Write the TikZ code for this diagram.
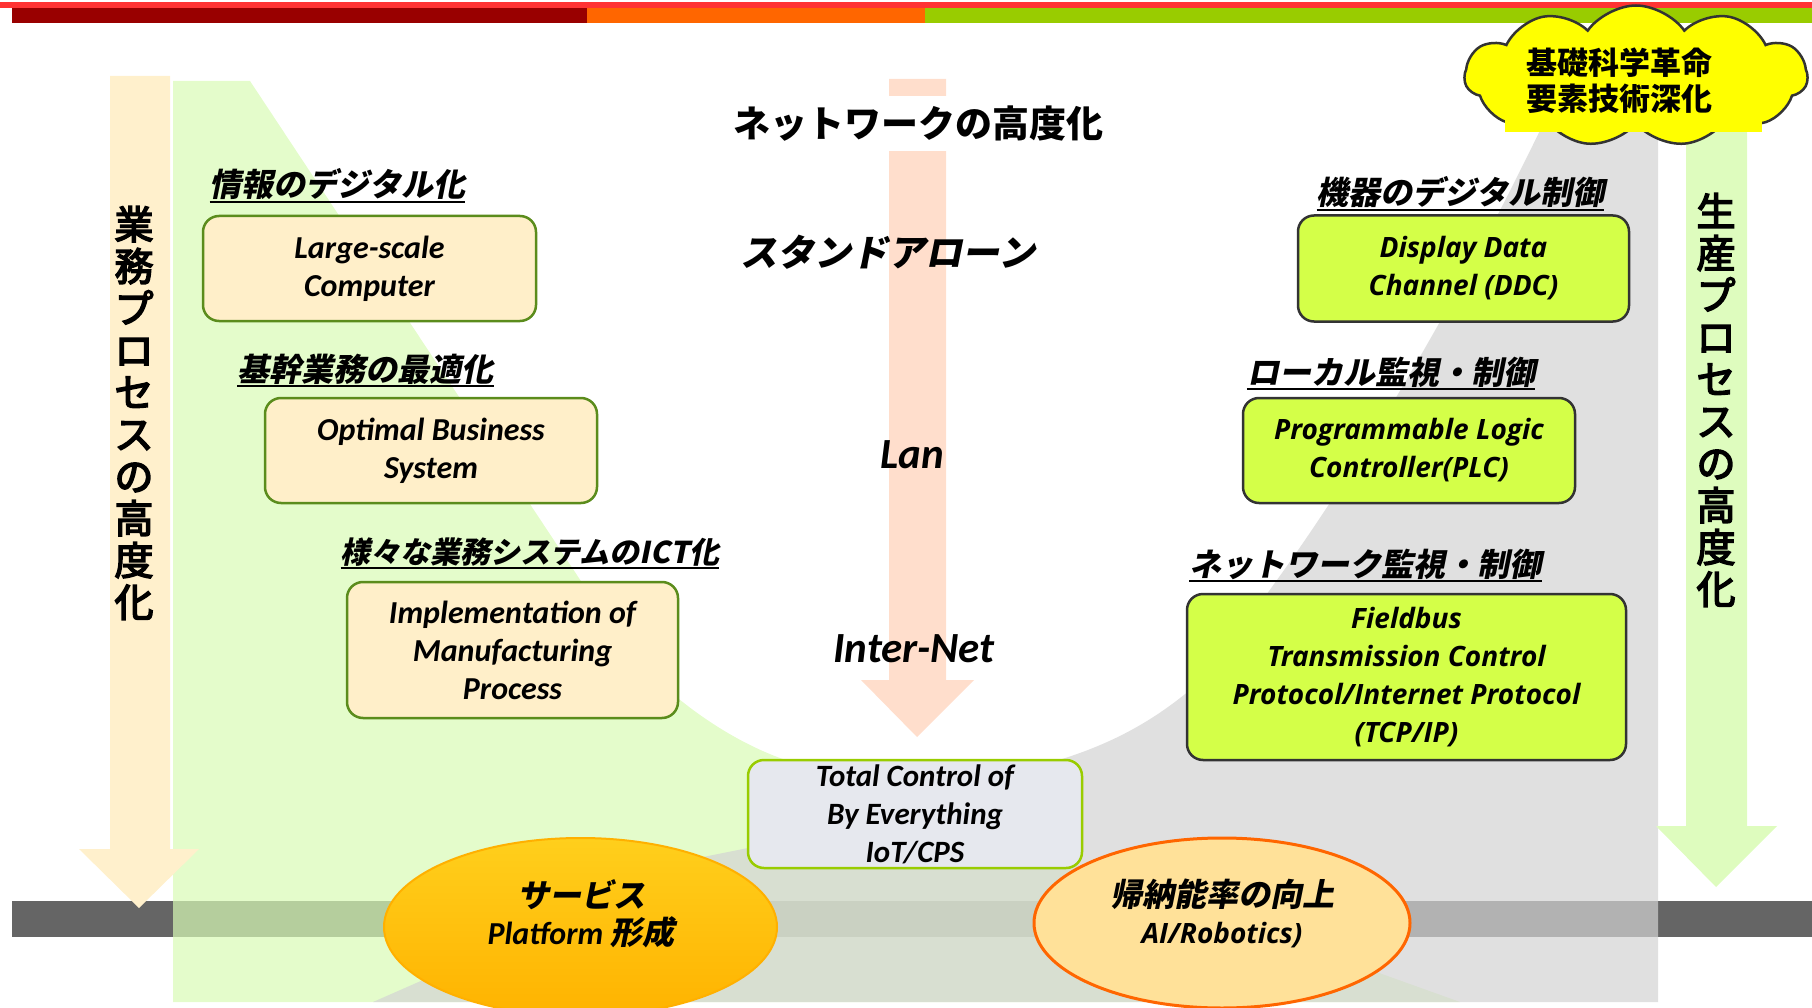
\documentclass[tikz,border=0pt]{standalone}
\usepackage{fontspec}
\setmainfont{Carlito}
\newfontfamily\jp{Noto Sans CJK JP}
\newfontfamily\jpm[FakeBold=4]{Noto Sans CJK JP}
\newfontfamily\jpsl[FakeSlant=0.2]{Noto Sans CJK JP}
\newfontfamily\osans{Open Sans}
\usetikzlibrary{shapes.symbols,shapes.geometric}
\newcommand\jb{\jpsl\bfseries\upshape}
\newcommand\jbu{\jp\bfseries\upshape}
\definecolor{barred}{HTML}{FF3333}
\definecolor{bardr}{HTML}{990000}
\definecolor{baror}{HTML}{FF6600}
\definecolor{bargr}{HTML}{99CC00}
\definecolor{beigearr}{HTML}{FFF0CC}
\definecolor{pinkarr}{HTML}{FFDECC}
\definecolor{grnarr}{HTML}{DEFCBE}
\definecolor{regG}{HTML}{D8FBB5}
\definecolor{regR}{HTML}{D3D3D3}
\definecolor{bandc}{HTML}{656565}
\definecolor{lfill}{HTML}{FFEFC9}
\definecolor{ldraw}{HTML}{5B8C1C}
\definecolor{rfill}{HTML}{D4FF48}
\definecolor{rdraw}{HTML}{333333}
\definecolor{tfill}{HTML}{E6E8EE}
\definecolor{tdraw}{HTML}{99CC00}
\definecolor{svtop}{HTML}{FFCF1C}
\definecolor{svbot}{HTML}{FFB300}
\definecolor{svdraw}{HTML}{FFB000}
\definecolor{aifill}{HTML}{FFE199}
\definecolor{aidraw}{HTML}{FF6600}
\definecolor{cloudy}{HTML}{FFFF00}
\tikzset{
  lbox/.style={draw=ldraw, fill=lfill, line width=2.5pt, rounded corners=16pt, align=center, inner sep=0pt,
    font=\fontsize{32}{38}\selectfont\bfseries\itshape},
  rbox/.style={draw=rdraw, fill=rfill, line width=2.5pt, rounded corners=16pt, align=center, inner sep=0pt,
    font=\osans\fontsize{28}{38}\selectfont\bfseries\itshape},
  tbox/.style={draw=tdraw, fill=tfill, line width=2.5pt, rounded corners=16pt, align=center, inner sep=0pt,
    font=\fontsize{31}{38}\selectfont\bfseries\itshape},
  ttl/.style={anchor=base, inner sep=0pt, font=\jb\fontsize{32}{38}\selectfont},
  ul/.style={line width=2pt},
  vtext/.style={align=center, inner sep=0pt, font=\jpm\fontsize{39}{42}\selectfont},
  midtxt/.style={inner sep=0pt, font=\fontsize{43}{48}\selectfont\bfseries\itshape},
}
\begin{document}
\begin{tikzpicture}[x=1pt,y=-1pt]
\useasboundingbox (0,0) rectangle (1812,1008);
\clip (0,0) rectangle (1812,1008);
% top bars
\fill[barred] (0,2.5) rectangle (1812,8);
\fill[bardr] (12,8) rectangle (587,23);
\fill[baror] (587,8) rectangle (925,23);
\fill[bargr] (925,8) rectangle (1812,23);
% bottom band
\fill[bandc] (12,901) rectangle (1812,937);
% regions
\fill[regG, opacity=0.7] (173,81) -- (250,81) -- (610,625) .. controls (650,685) and (720,736) .. (780,758)
  -- (1460,1002) -- (173,1002) -- cycle;
\fill[regR, opacity=0.7] (1545,120) -- (1658,120) -- (1658,1002) -- (373,1002) -- (703,857) -- (748,848) -- (1000,775)
  .. controls (1070,760) and (1130,740) .. (1190,690)
  .. controls (1280,590) and (1420,380) .. (1545,120) -- cycle;
% arrows
\fill[beigearr] (110,76) -- (170,76) -- (170,849) -- (199,849) -- (139,908) -- (79,849) -- (110,849) -- cycle;
\fill[pinkarr] (889,79) -- (946,79) -- (946,680) -- (974,680) -- (917,737) -- (861,680) -- (889,680) -- cycle;
\fill[grnarr] (1686,110) -- (1747,110) -- (1747,826) -- (1777,826) -- (1716,887) -- (1656,826) -- (1686,826) -- cycle;
% vertical texts
\node[vtext] (v1) at (134,413) {業\\務\\プ\\ロ\\セ\\ス\\の\\高\\度\\化};
\node[vtext] (v2) at (1716,400) {生\\産\\プ\\ロ\\セ\\ス\\の\\高\\度\\化};
% central texts
\node[fill=white, inner xsep=2pt, inner ysep=0pt, minimum height=55, font=\jbu\fontsize{37}{42}\selectfont] (nw) at (918,124) {ネットワークの高度化};
\node[inner sep=0pt, font=\jb\fontsize{37}{42}\selectfont] (sa) at (888,252) {スタンドアローン};
\node[midtxt] (lan) at (912,455) {Lan};
\node[midtxt] (inet) at (914,649) {Inter-Net};
% titles
\node[ttl] (t1) at (337.5,197) {情報のデジタル化};
\node[ttl] (t2) at (365.5,381) {基幹業務の最適化};
\node[ttl, font=\jb\fontsize{30}{36}\selectfont] (t3) at (530,563) {様々な業務システムのICT化};
\node[ttl] (t4) at (1460.5,205) {機器のデジタル制御};
\node[ttl] (t5) at (1391,384) {ローカル監視・制御};
\node[ttl] (t6) at (1365.5,576) {ネットワーク監視・制御};
\foreach \t in {t1,t2,t3,t4,t5,t6}{
  \draw[ul] ([yshift=-5pt]\t.base west) -- ([yshift=-5pt]\t.base east);
}
% boxes
\node[lbox, minimum width=333, minimum height=105] (b1) at (369.5,268.5) {Large-scale\\Computer};
\node[lbox, minimum width=332, minimum height=105] (b2) at (431,450.5) {Optimal Business\\System};
\node[lbox, minimum width=331, minimum height=136] (b3) at (512.5,650) {Implementation of\\Manufacturing\\Process};
\node[rbox, minimum width=331, minimum height=106] (r1) at (1463.5,268.5) {Display Data\\Channel (DDC)};
\node[rbox, minimum width=332, minimum height=105] (r2) at (1409,450.5) {Programmable Logic\\Controller(PLC)};
\node[rbox, minimum width=439, minimum height=166] (r3) at (1406.5,677) {Fieldbus\\Transmission Control\\Protocol/Internet Protocol\\(TCP/IP)};
\node[tbox, minimum width=334, minimum height=108] (tc) at (915,814) {Total Control of\\By Everything\\IoT/CPS};
% ellipses
\node[ellipse, draw=svdraw, line width=2pt, top color=svtop, bottom color=svbot, minimum width=393, minimum height=178, inner sep=0pt] (sv) at (580.5,927) {};
\node[align=center, inner sep=0pt, font=\fontsize{32}{37}\selectfont\bfseries\itshape] (svt) at (581,914)
  {{\jb\fontsize{32}{37}\selectfont サービス}\\Platform {\jb\fontsize{32}{37}\selectfont 形成}};
\node[ellipse, draw=aidraw, line width=3pt, fill=aifill, minimum width=376, minimum height=170, inner sep=0pt] (ai) at (1222,923) {};
\node[align=center, inner sep=0pt, font=\osans\fontsize{28}{37}\selectfont\bfseries\itshape] (ait) at (1222,913)
  {{\jb\fontsize{32}{37}\selectfont 帰納能率の向上}\\AI/Robotics)};
% cloud
\node[cloud, cloud puffs=11, cloud puff arc=110, aspect=2.4, draw=rdraw, fill=cloudy, line width=2.5pt,
  minimum width=343, minimum height=141, inner sep=0pt] (cl) at (1636,76) {};
\fill[cloudy] (1505,50) rectangle (1762,132);
\node[align=center, inner sep=0pt, font=\jbu\fontsize{31}{36}\selectfont] (clt) at (1619,81) {基礎科学革命\\要素技術深化};
\end{tikzpicture}
\end{document}
